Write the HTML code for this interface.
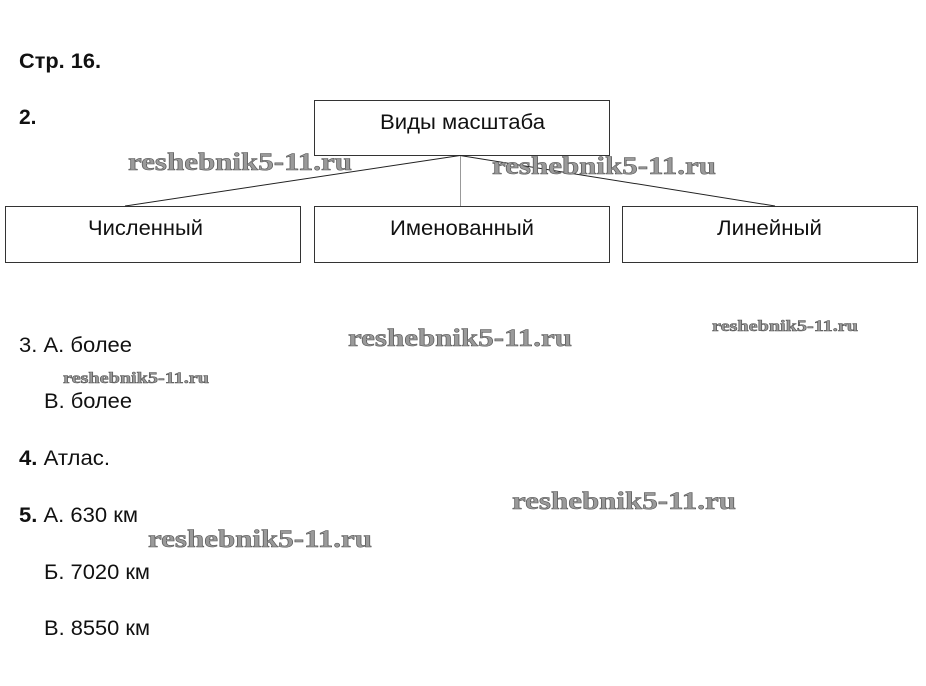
<!DOCTYPE html>
<html><head><meta charset="utf-8"><style>
html,body{margin:0;padding:0;background:#fff;width:926px;height:686px;overflow:hidden}
svg{display:block}
.t{font-family:"Liberation Sans",Arial,sans-serif;font-size:21px;fill:#111}
.b{font-weight:bold}
.w{font-family:"Liberation Serif",serif;font-weight:bold;fill:#9a9a9a;stroke:#555;stroke-width:0.6}
</style></head><body>
<svg width="926" height="686" viewBox="0 0 926 686" xmlns="http://www.w3.org/2000/svg">
<text class="t b" x="19" y="68" font-size="20" textLength="82" lengthAdjust="spacingAndGlyphs">Стр. 16.</text>
<text class="t b" x="19" y="124" font-size="20">2.</text>

<rect x="314.5" y="100.5" width="295" height="55" fill="#fff" stroke="#333" stroke-width="1"/>
<rect x="5.5" y="206.5" width="295" height="56" fill="#fff" stroke="#333" stroke-width="1"/>
<rect x="314.5" y="206.5" width="295" height="56" fill="#fff" stroke="#333" stroke-width="1"/>
<rect x="622.5" y="206.5" width="295" height="56" fill="#fff" stroke="#333" stroke-width="1"/>
<line x1="460" y1="155.5" x2="125" y2="206" stroke="#222" stroke-width="1"/>
<line x1="460" y1="155.5" x2="775" y2="206" stroke="#222" stroke-width="1"/>
<line x1="460.5" y1="156" x2="460.5" y2="206" stroke="#999" stroke-width="1"/>

<text class="t" x="380" y="129" textLength="165" lengthAdjust="spacingAndGlyphs">Виды масштаба</text>
<text class="t" x="88" y="235" textLength="115" lengthAdjust="spacingAndGlyphs">Численный</text>
<text class="t" x="390" y="235" textLength="144" lengthAdjust="spacingAndGlyphs">Именованный</text>
<text class="t" x="717" y="235" textLength="105" lengthAdjust="spacingAndGlyphs">Линейный</text>

<text class="w" x="128" y="170" font-size="25" textLength="224" lengthAdjust="spacingAndGlyphs">reshebnik5-11.ru</text>
<text class="w" x="492" y="174" font-size="25" textLength="224" lengthAdjust="spacingAndGlyphs">reshebnik5-11.ru</text>
<text class="w" x="348" y="346" font-size="25" textLength="224" lengthAdjust="spacingAndGlyphs">reshebnik5-11.ru</text>
<text class="w" x="712" y="331" font-size="16" textLength="146" lengthAdjust="spacingAndGlyphs">reshebnik5-11.ru</text>
<text class="w" x="63" y="383" font-size="16" textLength="146" lengthAdjust="spacingAndGlyphs">reshebnik5-11.ru</text>
<text class="w" x="512" y="509" font-size="25" textLength="224" lengthAdjust="spacingAndGlyphs">reshebnik5-11.ru</text>
<text class="w" x="148" y="547" font-size="25" textLength="224" lengthAdjust="spacingAndGlyphs">reshebnik5-11.ru</text>

<text class="t" x="19" y="352" textLength="113" lengthAdjust="spacingAndGlyphs">3. А. более</text>
<text class="t" x="44" y="408" textLength="88" lengthAdjust="spacingAndGlyphs">В. более</text>
<text class="t" x="19" y="465" textLength="91" lengthAdjust="spacingAndGlyphs"><tspan class="b">4.</tspan> Атлас.</text>
<text class="t" x="19" y="522" textLength="119" lengthAdjust="spacingAndGlyphs"><tspan class="b">5.</tspan> А. 630 км</text>
<text class="t" x="44" y="579" textLength="106" lengthAdjust="spacingAndGlyphs">Б. 7020 км</text>
<text class="t" x="44" y="635" textLength="106" lengthAdjust="spacingAndGlyphs">В. 8550 км</text>
</svg>
</body></html>
